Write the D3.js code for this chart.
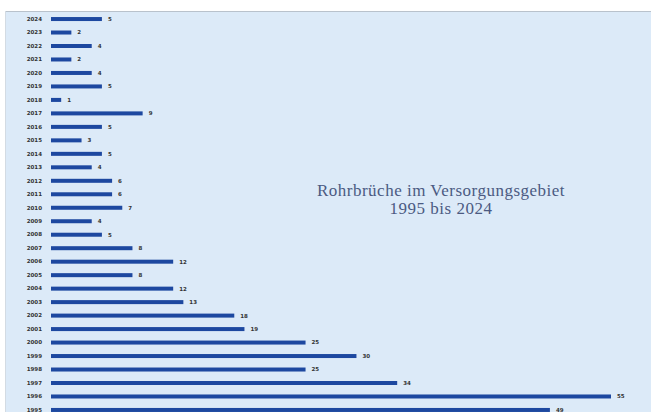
<!DOCTYPE html>
<html>
<head>
<meta charset="utf-8">
<script src="https://cdn.jsdelivr.net/npm/d3@7"></script>
<style>
  body { margin: 0; background: #fff; }
  svg { display: block; }
</style>
</head>
<body>
<div id="chart"></div>
<script>
// Rohrbrueche pro Jahr, von oben (2024) nach unten (1995)
var years = [2024, 2023, 2022, 2021, 2020, 2019, 2018, 2017, 2016, 2015,
             2014, 2013, 2012, 2011, 2010, 2009, 2008, 2007, 2006, 2005,
             2004, 2003, 2002, 2001, 2000, 1999, 1998, 1997, 1996, 1995];
var breaks = [5, 2, 4, 2, 4, 5, 1, 9, 5, 3,
              5, 4, 6, 6, 7, 4, 5, 8, 12, 8,
              12, 13, 18, 19, 25, 30, 25, 34, 55, 49];
var titleLines = ["Rohrbrüche im Versorgungsgebiet", "1995 bis 2024"];

var data = years.map(function(y, i){ return {year: y, value: breaks[i]}; });

var width = 657, height = 412;

var svg = d3.select("#chart").append("svg")
    .attr("width", width)
    .attr("height", height);

// panel background
svg.append("rect")
    .attr("x", 5).attr("y", 11)
    .attr("width", 646).attr("height", height - 11)
    .attr("fill", "#dceaf8");
svg.append("line")
    .attr("x1", 5).attr("x2", 651)
    .attr("y1", 11.5).attr("y2", 11.5)
    .attr("stroke", "#b9c2cc").attr("stroke-width", 1);
svg.append("line")
    .attr("x1", 5.5).attr("x2", 5.5)
    .attr("y1", 11).attr("y2", height)
    .attr("stroke", "#d3dbe3").attr("stroke-width", 1);

var x = d3.scaleLinear()
    .domain([0, 55])
    .range([51, 611]);

var y = d3.scaleBand()
    .domain(years)
    .range([12.3, 416.7]);

var barH = 4;

var yAxis = d3.axisLeft(y).tickSize(0).tickPadding(0);
svg.append("g")
    .attr("class", "y-axis")
    .attr("transform", "translate(42,0)")
    .call(yAxis)
    .call(function(g){ g.select(".domain").remove(); })
    .selectAll("text")
    .attr("font-family", "DejaVu Sans, sans-serif")
    .attr("font-size", 5.5)
    .attr("font-weight", "bold")
    .attr("fill", "#333");

svg.selectAll(".bar")
    .data(data)
    .enter()
    .append("rect")
    .attr("class", "bar")
    .attr("x", x(0))
    .attr("y", function(d){ return y(d.year) + y.bandwidth()/2 - barH/2; })
    .attr("width", function(d){ return x(d.value) - x(0); })
    .attr("height", barH)
    .attr("fill", "#1d48a0");

svg.selectAll(".val")
    .data(data)
    .enter()
    .append("text")
    .attr("class", "val")
    .attr("x", function(d){ return x(d.value) + 6; })
    .attr("y", function(d){ return y(d.year) + y.bandwidth()/2; })
    .attr("dy", "0.35em")
    .attr("font-family", "DejaVu Sans, sans-serif")
    .attr("font-size", 5.5)
    .attr("font-weight", "bold")
    .attr("fill", "#333")
    .text(function(d){ return d.value; });

svg.selectAll(".title")
    .data(titleLines)
    .enter()
    .append("text")
    .attr("class", "title")
    .attr("x", 441)
    .attr("y", function(d, i){ return 196 + i * 18; })
    .attr("text-anchor", "middle")
    .attr("font-family", "Liberation Serif, serif")
    .attr("font-size", 17)
    .attr("letter-spacing", 0.5)
    .attr("fill", "#4b5a82")
    .text(function(d){ return d; });
</script>
</body>
</html>
